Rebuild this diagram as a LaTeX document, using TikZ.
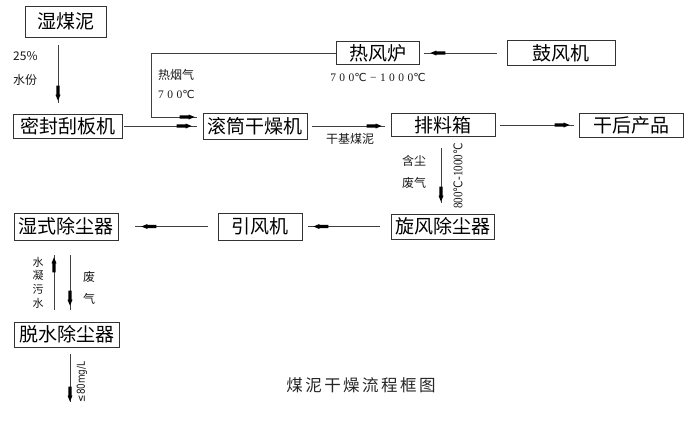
\documentclass[tikz,border=0pt]{standalone}
\usepackage{fontspec}
\newfontfamily\cjk{Noto Sans CJK SC}
\newfontfamily\cjkwide[LetterSpace=15]{Noto Sans CJK SC}
\newfontfamily\numfont[LetterSpace=30]{Liberation Serif}
\newfontfamily\numplain{Liberation Serif}
\newfontfamily\dvs{DejaVu Sans}
\usetikzlibrary{decorations.markings}
\newcommand\boxfont{\cjk\fontsize{19}{19}\selectfont}
\newcommand\labfont{\cjk\fontsize{12}{12}\selectfont}
\newcommand\numtxt{\numfont\fontsize{11.5}{11.5}\selectfont}
\newcommand\degc{{\dvs\fontsize{11}{11}\selectfont ℃}\hspace{3.3pt}}
\newcommand\degcp{{\dvs\fontsize{11}{11}\selectfont ℃}}
\begin{document}
\begin{tikzpicture}[x=1pt,y=-1pt,
  box/.style 2 args={draw=black!80, line width=0.7pt, inner sep=0pt, minimum width=#1pt, minimum height=#2pt, font=\boxfont},
  flow/.style={draw=black!75, line width=0.7pt},
  headat/.style={postaction={decorate,decoration={markings,mark=at position #1 with {\fill[black] (-15pt,-1.6pt) -- (-6pt,-1.6pt) -- (-6pt,-2.5pt) -- (0pt,0pt) -- (-6pt,2.5pt) -- (-6pt,1.6pt) -- (-15pt,1.6pt) -- cycle;}}}},
  lab/.style={font=\labfont, inner sep=0pt, text=black!90},
  num/.style={font=\numtxt, inner sep=0pt, text=black!90},
]
\useasboundingbox (0,0) rectangle (693,421);
\fill[white] (0,0) rectangle (693,421);

% boxes
\node[box={81}{31}] (wet) at (65.5,21.5) {湿煤泥};
\node[box={109}{24}] (mgb) at (67.5,126) {密封刮板机};
\node[box={104}{26}] (gt) at (255,126) {滚筒干燥机};
\node[box={83}{23}] (hf) at (377.5,53) {热风炉};
\node[box={108}{25}] (gfj) at (561,53) {鼓风机};
\node[box={104}{23}] (plx) at (443,125) {排料箱};
\node[box={104}{24}] (ghcp) at (631,125) {干后产品};
\node[box={103}{25}] (xf) at (442.5,226.5) {旋风除尘器};
\node[box={84}{27}] (yf) at (260,226.5) {引风机};
\node[box={104}{27}] (sc) at (66,226.5) {湿式除尘器};
\node[box={105}{25}] (ts) at (66.5,334.5) {脱水除尘器};
\coordinate (out) at (70,402);

% connectors
\draw[flow, headat=-2pt] ([shift={(-7.5pt,-8pt)}]wet.south) -- ([shift={(-9.5pt,11pt)}]mgb.north);
\draw[flow, headat=-5pt] ([xshift=2pt]mgb.east) -- ([xshift=-6pt]mgb.east -| gt.west);
\draw[flow, headat=-2pt] (hf.west) -- ++(-184,0) |- ([shift={(-6pt,9pt)}]gt.west);
\draw[flow, headat=-6pt] ([xshift=-10pt]gfj.west) -- ([xshift=5pt]gfj.west -| hf.east);
\draw[flow, headat=-3pt] ([xshift=5pt]gt.east) -- ([xshift=-6pt]gt.east -| plx.west);
\draw[flow, headat=-4pt] ([xshift=5pt]plx.east) -- ([xshift=-5pt]plx.east -| ghcp.west);
\draw[flow, headat=-1pt] ([shift={(-2pt,-11pt)}]plx.south) -- ([shift={(-1.5pt,11pt)}]xf.north);
\draw[flow, headat=-5pt] ([xshift=-11pt]xf.west) -- ([xshift=6pt]xf.west -| yf.east);
\draw[flow, headat=-6pt] ([xshift=-10pt]yf.west) -- ([xshift=17pt]yf.west -| sc.east);
\draw[flow, headat=-2pt] ([shift={(-12.5pt,12pt)}]ts.north) -- ([shift={(-12pt,-15pt)}]sc.south);
\draw[flow, headat=-4pt] ([shift={(4pt,-15pt)}]sc.south) -- ([shift={(3.5pt,12pt)}]ts.north);
\draw[flow, headat=-0.5pt] ([shift={(3.5pt,-7pt)}]ts.south) -- (out);

% labels
\node[lab, anchor=west] (l25) at (13,56) {25\%};
\node[lab, anchor=west] (lsf) at (13,80) {水份};
\node[lab, anchor=west] (lrq) at (158,75) {热烟气};
\node[num, anchor=west] (l700) at (158,94) {700\degcp};
\node[num] (lrange) at (378,77) {700\degc−1000\degcp};
\node[lab] (lgj) at (350,139) {干基煤泥};
\node[lab] (lhc) at (414,161) {含尘};
\node[lab] (lfq) at (414,183) {废气};
\node[inner sep=0pt, rotate=90, font=\numplain\fontsize{13}{13}\selectfont, text=black!90] (lrot) at (458,176) {\scalebox{0.85}[1]{800{\dvs\fontsize{12}{12}\selectfont ℃}-1000{\dvs\fontsize{12}{12}\selectfont ℃}}};
\node[inner sep=0pt, align=center, font=\cjk\fontsize{11}{13.7}\selectfont, text=black!90] (lns) at (38,282.5) {水\\凝\\污\\水};
\node[lab] (lf1) at (89,277) {废};
\node[lab] (lf2) at (89,299) {气};
\node[inner sep=0pt, rotate=90, font=\dvs\fontsize{11}{11}\selectfont, text=black!90] (lmg) at (82,382) {\scalebox{0.8}[1]{≤80mg/L}};
\node[inner sep=0pt, font=\cjkwide\fontsize{16.5}{16.5}\selectfont, text=black!85] (title) at (361,385) {煤泥干燥流程框图};
\end{tikzpicture}
\end{document}
